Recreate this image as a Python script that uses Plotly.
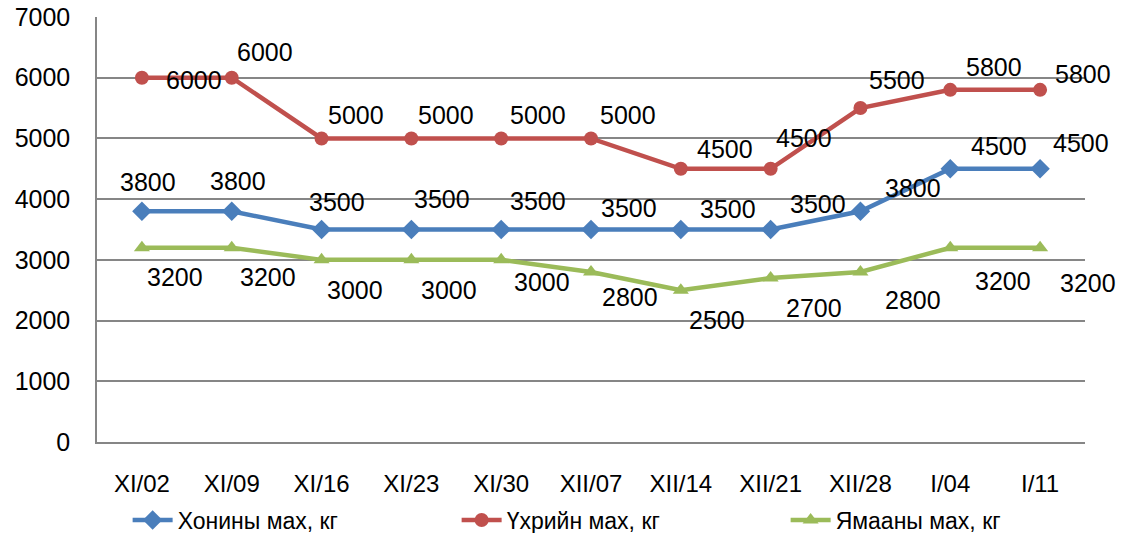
import plotly.graph_objects as go

categories = ["XI/02", "XI/09", "XI/16", "XI/23", "XI/30", "XII/07", "XII/14", "XII/21", "XII/28", "I/04", "I/11"]
sheep = [3800, 3800, 3500, 3500, 3500, 3500, 3500, 3500, 3800, 4500, 4500]
beef = [6000, 6000, 5000, 5000, 5000, 5000, 4500, 4500, 5500, 5800, 5800]
goat = [3200, 3200, 3000, 3000, 3000, 2800, 2500, 2700, 2800, 3200, 3200]
y_ticks = [0, 1000, 2000, 3000, 4000, 5000, 6000, 7000]

names = ["Хонины мах, кг", "Үхрийн мах, кг", "Ямааны мах, кг"]
colors = ["#4A7EBB", "#C0504D", "#9BBB59"]
symbols = ["diamond", "circle", "triangle-up"]

# label offsets in screen pixels (dx right, dy down)
off_sheep = [(6, -29), (6, -30), (15, -28), (31, -31), (37, -29), (38, -22), (47, -21), (47, -26), (53, -23), (49, -23), (41, -26)]
off_beef = [(52, 2), (33, -26), (34, -23), (35, -23), (37, -23), (37, -23), (44, -20), (33, -31), (37, -28), (44, -23), (43, -16)]
off_goat = [(33, 29), (36, 29), (33, 30), (38, 30), (41, 22), (39, 25), (36, 30), (43, 30), (53, 28), (53, 33), (48, 35)]

FONT = "Liberation Sans, Arial, sans-serif"

fig = go.Figure()
for vals, name, col, sym in zip([sheep, beef, goat], names, colors, symbols):
    fig.add_trace(go.Scatter(
        x=categories, y=vals, name=name, mode="lines+markers",
        line=dict(color=col, width=4.5),
        marker=dict(symbol=sym, size=14 if sym != "diamond" else 15, color=col),
        cliponaxis=False,
    ))

annotations = []
for vals, offs in zip([sheep, beef, goat], [off_sheep, off_beef, off_goat]):
    for c, v, (dx, dy) in zip(categories, vals, offs):
        annotations.append(dict(
            x=c, y=v, xref="x", yref="y", text=str(v), showarrow=False,
            xshift=dx, yshift=-dy, font=dict(family=FONT, size=25, color="black"),
            xanchor="center", yanchor="middle",
        ))

fig.update_layout(
    width=1122, height=533,
    margin=dict(l=97, r=37, t=17, b=91, autoexpand=False),
    paper_bgcolor="white", plot_bgcolor="white",
    font=dict(family=FONT, size=24, color="black"),
    annotations=annotations,
    showlegend=True,
    legend=dict(
        orientation="h", x=0.031, xanchor="left",
        y=-0.1835, yanchor="middle",
        entrywidth=274, entrywidthmode="pixels",
        font=dict(family=FONT, size=23, color="black"),
        itemwidth=40, tracegroupgap=0, bgcolor="rgba(0,0,0,0)",
    ),
    xaxis=dict(
        type="category", showgrid=False, showline=True, linecolor="#868686", linewidth=1.5,
        ticks="", ticklabelstandoff=19, tickfont=dict(family=FONT, size=24, color="black"),
        range=[-0.5, len(categories) - 0.5], fixedrange=True, automargin=False,
    ),
    yaxis=dict(
        range=[0, 7000], tickvals=y_ticks, showgrid=True, gridcolor="#868686", gridwidth=1.5,
        showline=True, linecolor="#868686", linewidth=1.5, zeroline=False, automargin=False,
        ticks="", ticklabelstandoff=20, ticklabeloverflow="allow",
        tickfont=dict(family=FONT, size=25, color="black"),
    ),
)

# remove the default 8px page margin so the figure fills the window exactly
fig.write_html(
    "out.html",
    config={"displayModeBar": False},
    post_script="document.body.style.margin='0';document.body.style.overflow='hidden';",
)
